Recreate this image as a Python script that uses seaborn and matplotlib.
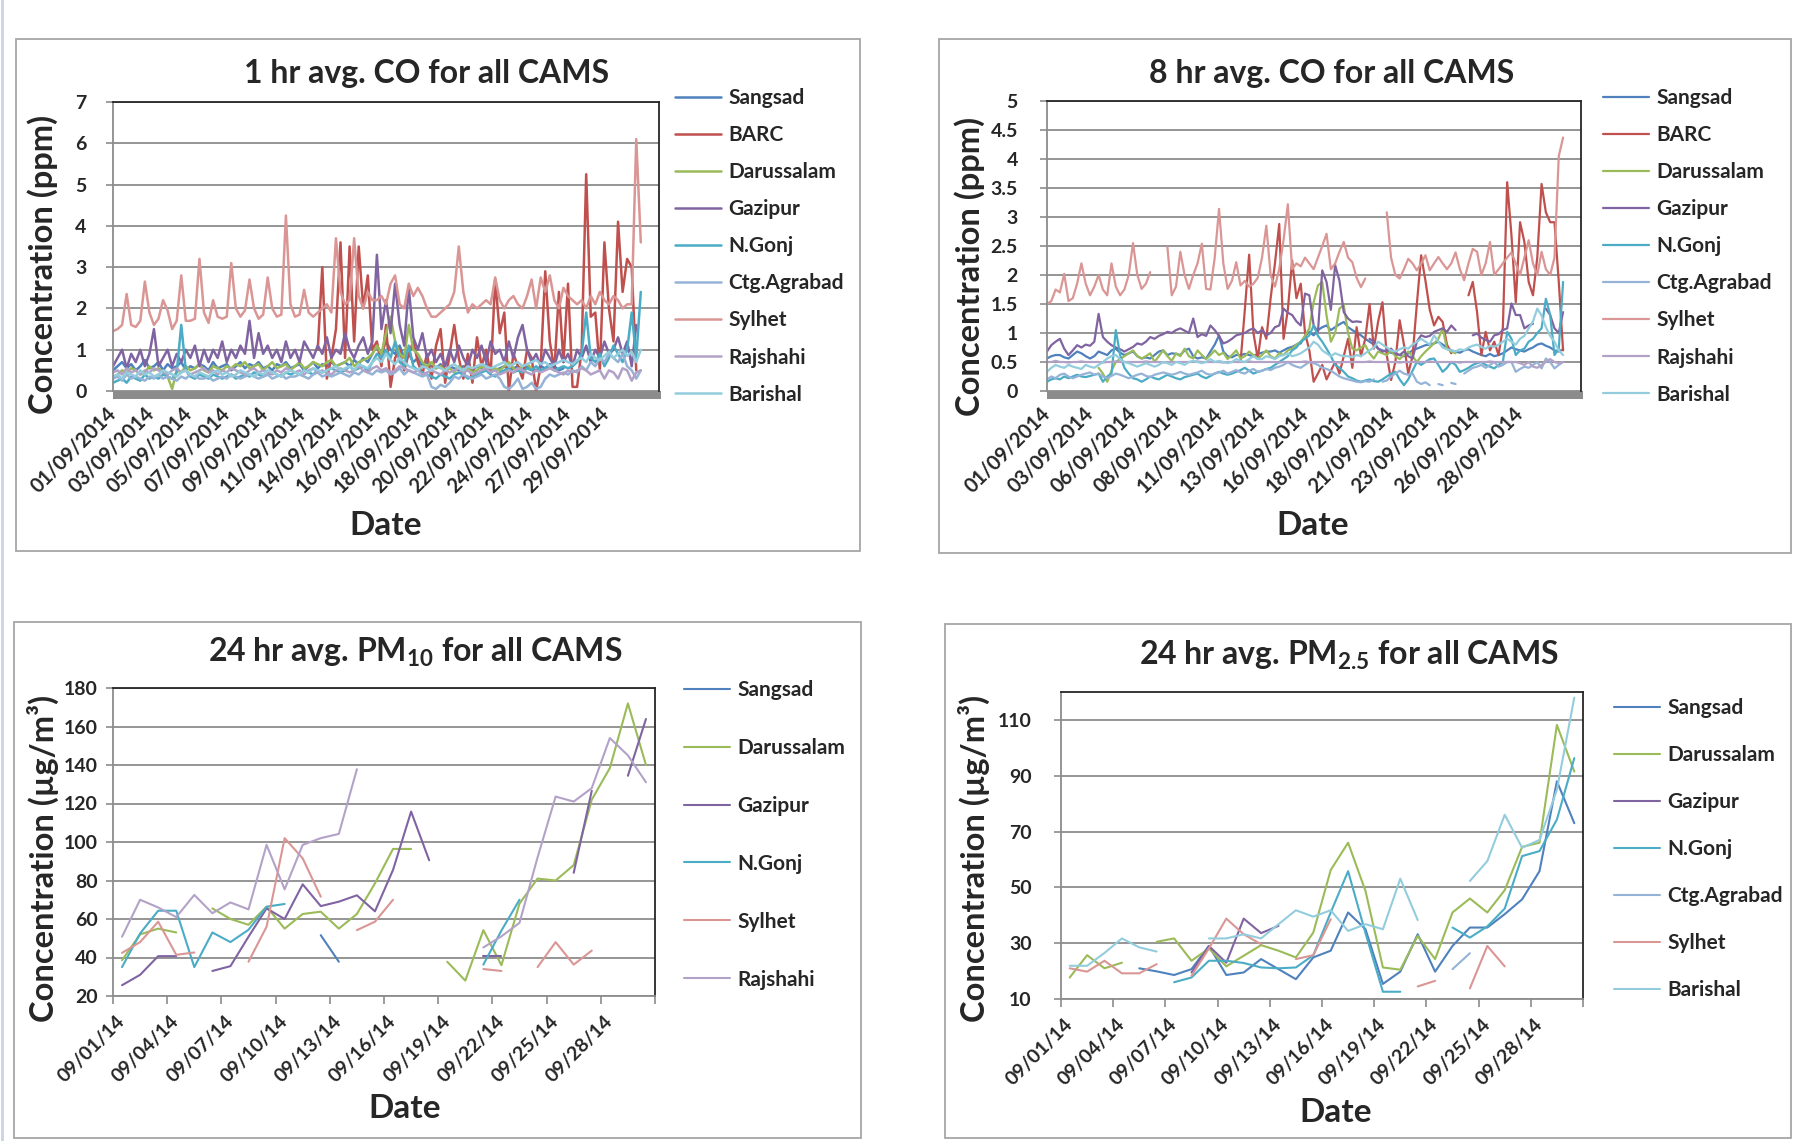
import numpy as np
import pandas as pd
import matplotlib
matplotlib.use("Agg")
import matplotlib.pyplot as plt
import seaborn as sns
from matplotlib.patches import Rectangle
from matplotlib.lines import Line2D

# ---------------- DATA ----------------
stations_co = ["Sangsad", "BARC", "Darussalam", "Gazipur", "N.Gonj", "Ctg.Agrabad", "Sylhet", "Rajshahi", "Barishal"]
colors = {"Sangsad": "#4F81BD", "BARC": "#C0504D", "Darussalam": "#9BBB59", "Gazipur": "#8064A2",
          "N.Gonj": "#4BACC6", "Ctg.Agrabad": "#95B3D7", "Sylhet": "#D99694", "Rajshahi": "#B3A2C7",
          "Barishal": "#93CDDD"}

# 1 hr avg CO (ppm), one value every 6 hours of the hourly record
co1_sangsad = [0.5,0.6,0.7,0.55,0.65,0.5,0.6,0.75,0.55,0.6, 0.7,0.5,0.65,0.55,0.6,0.7,0.5,0.6,0.55,0.65,
               0.6,0.5,0.7,0.55,0.6,0.65,0.5,0.6,0.7,0.55, 0.65,0.6,0.7,0.55,0.6,0.5,0.65,0.6,0.7,0.55,
               0.6,0.65,0.5,0.6,0.7,0.55,0.65,0.6,0.7,0.6, 0.65,0.7,0.6,0.75,0.65,0.8,0.7,0.9,1.1,0.9,
               1.2,1.0,0.9,1.1,0.8,0.9,0.7,0.8,0.6,0.7, 0.6,0.55,0.65,0.5,0.6,0.55,0.5,0.6,0.55,0.5,
               0.6,0.55,0.65,0.6,0.5,0.55,0.6,0.5,0.55,0.6, 0.5,0.6,0.55,0.5,0.6,0.55,0.65,0.6,0.5,0.55]
co1_barc = [None] * 45 + [1.0,3.0,0.3,0.8,1.5,
            3.6,0.8,3.5,1.2,3.5,2.0,2.8,1.0,1.2,0.6, 1.6,0.1,0.8,1.0,0.5,0.9,1.2,0.7,0.4,0.9,
            0.3,1.1,1.5,0.2,0.9,1.6,0.8,0.3,0.9,0.2, 1.3,0.6,1.0,0.4,2.7,1.4,1.9,0.0,0.9,0.6,
            0.3,1.0,0.8,0.0,0.6,2.9,1.2,0.5,2.4,0.7, 2.6,0.1,0.1,1.0,5.25,1.8,1.9,0.5,3.6,2.0,
            1.2,4.1,2.4,3.2,3.0,0.5]
co1_darussalam = [0.3,0.4,0.5,0.45,0.55,0.5,0.4,0.45,0.6,0.5, 0.55,0.45,0.35,0.05,0.5,0.45,0.6,0.5,0.55,0.65,
                  0.5,0.45,0.6,0.55,0.5,0.6,0.55,0.65,0.6,0.7, 0.55,0.6,0.65,0.5,0.6,0.7,0.55,0.6,0.65,0.5,
                  0.6,0.7,0.55,0.6,0.7,0.65,0.6,0.7,0.75,0.6, 0.65,0.7,0.8,0.6,0.7,0.75,0.8,0.9,1.1,0.9,
                  1.4,1.8,1.2,0.9,0.8,1.6,1.0,0.9,0.7,0.6, 0.7,0.55,0.6,0.5,0.55,0.45,0.6,0.5,0.55,0.45,
                  0.5,0.6,0.5,0.45,0.55,0.5,0.6,0.7,0.55,0.5, 0.6,0.65,0.55]
co1_gazipur = [0.6,0.8,1.0,0.55,0.9,0.7,1.0,0.6,0.9,1.5, 0.6,0.8,1.0,0.6,0.9,0.7,1.0,0.8,1.1,0.6,
               1.0,0.7,1.0,0.8,1.2,0.7,1.0,0.8,1.1,0.9, 1.7,0.8,1.4,0.9,1.1,0.8,1.0,0.7,1.2,0.8,
               1.0,0.7,1.2,1.0,0.8,1.1,0.9,1.3,0.8,1.0, 0.9,1.4,1.0,0.8,1.1,1.3,0.9,1.2,3.3,1.5,
               2.2,1.4,2.6,1.6,1.1,2.5,1.3,1.0,1.4,0.8, 1.0,0.7,0.9,0.6,1.0,0.7,1.1,0.8,0.6,1.0,
               0.8,1.1,0.7,1.2,0.9,1.0,0.7,1.2,0.8,1.3, 1.6,1.0,0.7,0.9,0.6,1.0,0.8,0.6,1.0,0.7,
               0.9,0.6,1.0,0.8,1.1,0.7,1.0,0.8,1.2,0.9, 1.0,1.3,0.9,1.2,0.6,1.6]
co1_ngonj = [0.2,0.25,0.3,0.2,0.35,0.3,0.25,0.4,0.3,0.35, 0.3,0.4,0.35,0.3,0.45,1.6,0.5,0.35,0.3,0.4,
             0.35,0.3,0.4,0.35,0.3,0.35,0.4,0.3,0.35,0.4, 0.35,0.45,0.4,0.35,0.4,0.45,0.4,0.35,0.45,0.4,
             0.45,0.4,0.5,0.45,0.4,0.5,0.45,0.5,0.55,0.5, 0.45,0.5,0.6,0.5,0.55,0.6,0.5,0.7,0.9,0.8,
             1.0,0.8,1.2,0.7,0.6,1.1,0.6,0.5,0.45,0.4, 0.35,0.3,0.4,0.35,0.3,0.4,0.45,0.4,0.3,0.35,
             0.4,0.45,0.5,0.4,0.35,0.45,0.5,0.55,0.45,0.5, 0.45,0.55,0.5,0.6,0.5,0.55,0.6,0.5,0.55,0.6,
             0.55,0.6,0.7,0.9,1.9,0.8,0.7,0.9,0.6,0.8, 1.1,0.9,0.7,1.0,1.9,0.8,2.4]
co1_ctg = [0.3,0.35,0.25,0.4,0.3,0.35,0.3,0.25,0.35,0.3, 0.4,0.3,0.35,0.3,0.25,0.35,0.3,0.4,0.35,0.3,
           0.3,0.35,0.25,0.3,0.35,0.3,0.4,0.35,0.3,0.35, 0.4,0.35,0.3,0.35,0.4,0.3,0.35,0.4,0.3,0.35,
           0.35,0.4,0.35,0.3,0.4,0.45,0.35,0.4,0.35,0.4, 0.45,0.4,0.35,0.45,0.4,0.5,0.45,0.4,0.5,0.45,
           0.5,0.4,0.45,0.55,0.4,0.5,0.45,0.4,0.35,0.4, 0.1,0.05,0.15,0.1,0.2,0.35,0.3,0.4,0.35,0.3,
           0.35,0.4,0.3,0.35,0.4,0.3,0.1,0.05,0.15,0.3, 0.05,0.1,0.2,0.05,0.1,0.3,0.4,0.35,0.4,0.45,
           0.4,0.5,0.45,0.6,0.5,0.7,0.6,0.8,0.7,0.9, 0.8,0.7,0.9,0.6,0.5,0.3,0.5]
co1_sylhet = [1.45,1.5,1.6,2.35,1.6,1.55,1.7,2.65,1.9,1.6, 1.75,2.2,1.95,1.5,1.7,2.8,1.7,1.7,1.75,3.2,
              1.9,1.65,2.2,1.8,1.75,1.8,3.1,2.0,1.8,1.95, 2.7,2.0,1.75,1.85,2.75,2.0,1.8,1.85,4.25,2.1,
              1.8,1.85,2.45,1.9,1.8,1.9,2.0,2.1,1.9,3.7, 2.4,2.1,2.2,3.7,2.3,2.0,2.4,2.2,2.2,2.3,
              2.1,2.6,2.8,2.1,2.0,2.6,2.3,2.5,2.3,2.0, 1.8,1.8,1.9,2.0,2.1,2.4,3.5,2.4,1.9,2.1,
              2.0,2.1,2.2,2.1,2.75,2.2,2.0,2.2,2.3,2.1, 2.0,2.3,2.7,2.0,2.75,2.4,2.8,2.2,2.0,2.5,
              2.3,2.2,2.1,2.2,2.0,2.3,2.1,2.4,2.2,2.1, 2.3,2.2,2.0,2.1,2.1,6.1,3.6]
co1_rajshahi = [0.45,0.5,0.4,0.55,0.45,0.5,0.4,0.5,0.45,0.55, 0.5,0.45,0.4,0.5,0.55,0.45,0.5,0.4,0.45,0.5,
                0.55,0.45,0.5,0.4,0.5,0.45,0.55,0.5,0.45,0.4, 0.5,0.55,0.45,0.5,0.45,0.4,0.5,0.45,0.55,0.5,
                0.45,0.5,0.4,0.5,0.55,0.45,0.5,0.45,0.4,0.5, 0.55,0.5,0.45,0.5,0.6,0.5,0.45,0.55,0.6,0.5,
                0.55,0.45,0.5,0.6,0.55,0.5,0.45,0.5,0.4,0.45, 0.5,0.45,0.4,0.5,0.45,0.5,0.55,0.45,0.5,0.4,
                0.45,0.5,0.55,0.45,0.5,0.4,0.45,0.5,0.45,0.55, 0.5,0.45,0.4,0.5,0.45,0.5,0.55,0.5,0.45,0.4,
                0.5,0.45,0.5,0.55,0.5,0.4,0.45,0.5,0.3,0.5, 0.45,0.3,0.55,0.5,0.25,0.45,0.5]
co1_barishal = [0.35,0.4,0.3,0.45,0.4,0.35,0.5,0.4,0.45,0.35, 0.4,0.5,0.45,0.4,0.35,0.45,0.5,0.4,0.35,0.45,
                0.4,0.35,0.45,0.5,0.4,0.45,0.35,0.4,0.5,0.45, 0.4,0.35,0.45,0.4,0.5,0.45,0.4,0.35,0.45,0.5,
                0.45,0.4,0.5,0.45,0.55,0.5,0.45,0.5,0.55,0.6, 0.5,0.55,0.6,0.5,0.65,0.6,0.55,0.7,0.8,0.7,
                0.9,0.75,0.65,0.8,0.7,0.6,0.55,0.5,0.6,0.55, 0.5,0.6,0.55,0.5,0.6,0.65,0.55,0.5,0.6,0.55,
                0.6,0.65,0.6,0.55,0.6,0.65,0.7,0.6,0.65,0.7, 0.6,0.65,0.7,0.75,0.65,0.7,0.6,0.65,0.7,0.75,
                0.7,0.65,0.75,0.8,0.7,0.9,0.8,0.75,0.85,0.95, 0.8,0.9,1.0,0.85,0.95,0.7,1.0]
co1_ticklabels = ["01/09/2014", "03/09/2014", "05/09/2014", "07/09/2014", "09/09/2014", "11/09/2014",
                  "14/09/2014", "16/09/2014", "18/09/2014", "20/09/2014", "22/09/2014", "24/09/2014",
                  "27/09/2014", "29/09/2014"]

# 8 hr avg CO (ppm), one value every 6 hours
co8_sangsad = [0.56,0.6,0.62,0.62,0.58,0.56,0.62,0.68,0.65,0.6, 0.56,0.6,0.68,0.65,0.62,0.7,0.73,0.66,0.62,0.65,
               0.68,0.6,0.56,0.58,0.56,0.62,0.68,0.7,0.62,0.65, 0.64,0.62,0.7,0.73,0.6,0.56,0.58,0.56,0.68,0.8,
               0.96,0.68,0.6,0.58,0.62,0.62,0.64,0.62,0.6,0.64, 0.66,0.68,0.68,0.7,0.66,0.7,0.74,0.76,0.8,0.82,
               0.95,1.02,0.96,1.05,1.1,1.13,1.05,1.1,1.15,1.19, 1.1,1.05,1.0,0.96,0.9,0.85,0.8,0.73,0.7,0.68,
               0.66,0.64,0.62,0.6,0.65,0.7,0.73,0.76,0.79,0.8, 0.82,0.85,0.8,0.75,0.7,0.68,0.66,0.7,0.72,0.68,
               0.65,0.62,0.6,0.64,0.6,0.62,0.65,0.7,0.75,0.72, 0.7,0.68,0.72,0.75,0.8,0.82,0.78,0.75,0.7,0.68,
               0.72]
co8_barc = [None] * 45 + [0.5,1.4,2.35,1.0,0.56,
            1.1,0.9,1.6,2.2,2.88,0.9,1.4,2.25,1.6,1.85, 1.0,0.7,0.16,0.3,0.45,0.2,0.35,0.5,0.3,0.6,
            0.9,0.4,1.1,0.6,0.9,1.5,0.73,1.2,1.53,0.62, 0.19,0.5,1.22,0.8,0.3,0.6,1.5,2.34,1.9,1.4,
            1.13,1.28,1.19,0.8,0.65,None,None,None,1.65,1.88, 1.36,0.62,1.02,0.7,0.85,0.62,1.1,3.6,2.68,1.53,
            2.91,2.57,1.88,1.65,2.3,3.57,3.08,2.91,2.91,1.88, 0.7]
co8_darussalam = [None] * 12 + [0.4,0.3,0.16,0.35,0.5,0.55,0.6,0.65,
                  0.7,0.6,0.56,0.6,0.65,0.5,0.6,0.7,0.6,0.52, 0.65,0.6,0.73,0.6,0.56,0.7,0.62,0.55,0.62,0.7,
                  0.62,0.66,0.55,0.62,0.7,0.56,0.6,0.68,0.62,0.56, 0.62,0.7,0.6,0.56,0.65,0.62,0.7,0.73,0.8,0.85,
                  0.95,1.08,1.53,1.82,1.88,1.3,0.85,1.0,1.42,1.48, 1.0,0.73,0.7,0.75,0.79,0.65,0.56,0.68,0.65,0.62,
                  0.7,0.6,0.55,0.62,0.68,0.6,0.5,0.6,0.68,0.75, 0.82,0.9,1.08,0.73,0.68,0.65]
co8_gazipur = [0.68,0.79,0.85,0.9,0.73,0.62,0.7,0.79,0.75,0.8, 0.78,0.85,1.33,0.93,0.85,0.79,0.75,0.72,0.68,0.72,
               0.76,0.82,0.8,0.85,0.93,0.9,0.95,0.98,1.02,1.0, 1.05,1.08,1.04,1.0,1.25,0.93,0.98,0.95,1.13,1.05,
               0.95,0.82,0.85,0.9,0.96,0.98,1.0,1.05,1.08,1.0, 1.05,0.96,1.0,1.1,1.13,1.42,1.35,1.31,1.2,1.13,
               1.68,1.65,1.13,1.02,2.08,1.88,1.4,2.17,1.9,1.36, 1.25,1.19,1.2,1.19,None,0.9,0.85,0.73,0.68,0.7,
               0.73,0.65,0.62,0.68,0.6,0.56,0.85,0.96,0.93,0.95, 1.02,1.05,1.08,1.02,1.13,1.05,None,None,None,0.96,
               0.99,0.92,0.88,0.85,0.96,0.98,1.05,1.08,1.51,1.31, 1.31,1.08,1.13,1.16,None,None,1.42,1.31,1.08,1.0,
               1.36]
co8_ngonj = [0.16,0.2,0.22,0.2,0.25,0.22,0.25,0.28,0.25,0.24, 0.26,0.28,0.3,0.16,0.25,0.3,1.05,0.62,0.4,0.3,
             0.22,0.2,0.16,0.2,0.25,0.22,0.2,0.24,0.28,0.25, 0.22,0.2,0.24,0.26,0.28,0.3,0.25,0.22,0.26,0.3,
             0.33,0.3,0.28,0.3,0.33,0.36,0.4,0.35,0.3,0.33, 0.35,0.38,0.4,0.45,0.5,0.55,0.6,0.7,0.75,0.85,
             0.9,0.96,1.13,0.95,0.85,0.73,0.6,0.45,0.4,0.33, 0.25,0.22,0.18,0.16,0.18,0.2,0.17,0.16,0.2,0.25,
             0.3,0.33,0.2,0.1,0.2,0.35,0.5,0.45,0.5,0.55, 0.56,0.45,0.33,0.4,0.5,0.45,0.33,0.36,0.4,0.45,
             0.48,0.5,0.45,0.42,0.39,0.45,0.5,1.02,0.9,0.62, 0.7,0.73,0.85,0.9,1.0,1.08,1.59,1.31,0.62,0.73,
             1.88]
co8_ctg = [0.2,0.25,0.22,0.28,0.3,0.25,0.22,0.25,0.28,0.3, 0.32,0.28,0.3,0.25,0.22,0.26,0.3,0.28,0.25,0.22,
           0.25,0.28,0.3,0.26,0.24,0.28,0.3,0.32,0.3,0.28, 0.3,0.33,0.3,0.28,0.3,0.32,0.35,0.3,0.28,0.3,
           0.32,0.35,0.3,0.33,0.36,0.32,0.3,0.35,0.38,0.33, 0.35,0.38,0.36,0.4,0.42,0.45,0.5,0.45,0.42,0.4,
           0.45,0.5,0.48,0.45,0.4,0.38,0.35,0.3,0.25,0.22, 0.2,0.18,0.16,0.15,0.17,0.16,0.2,None,0.16,0.18,
           0.25,0.3,0.35,0.3,0.28,0.3,0.16,0.12,0.15,0.1, None,0.12,0.1,None,0.14,0.12,None,0.3,0.35,0.4,
           0.42,0.45,0.4,0.45,0.5,0.42,0.45,0.5,0.5,0.33, 0.38,0.42,0.4,0.45,0.5,0.39,0.56,0.5,0.39,0.45,
           0.5]
co8_sylhet = [1.5,1.55,1.75,1.7,2.02,1.55,1.6,1.85,2.2,1.85, 1.65,1.8,2.0,1.75,1.65,2.2,1.8,1.65,1.75,2.0,
              2.55,2.0,1.76,1.85,2.05,None,None,None,2.48,1.65, 1.8,2.4,2.0,1.76,2.0,2.2,2.54,1.76,1.75,2.3,
              3.14,2.2,1.76,1.9,2.22,1.82,1.9,1.8,1.85,1.95, 2.3,2.85,2.0,1.8,2.1,2.6,3.22,2.1,2.2,2.15,
              2.3,2.2,2.1,2.3,2.5,2.71,2.1,2.2,2.4,2.57, 2.3,2.22,1.95,1.79,1.94,None,None,None,None,3.08,
              2.3,2.0,1.94,2.1,2.28,2.2,2.08,2.2,2.34,2.08, 2.2,2.31,2.2,2.1,2.2,2.39,2.1,1.91,2.2,2.45,
              2.4,2.0,2.2,2.57,2.0,2.1,2.2,2.3,2.39,2.2, 2.0,2.3,2.6,2.2,2.0,2.4,2.1,2.0,2.3,4.05,
              4.37]
co8_rajshahi = [0.5,0.5,0.52,0.5,0.5,0.49,0.5,0.5,0.51,0.5, 0.5,0.5,0.5,0.49,0.5,0.5,0.51,0.5,0.5,0.5,
                0.5,0.5,0.5,0.51,0.5,0.5,0.5,0.49,0.5,0.5, 0.5,0.5,0.5,0.5,0.5,0.51,0.5,0.5,0.5,0.5,
                0.5,0.49,0.5,0.5,0.5,0.5,0.5,0.51,0.5,0.5, 0.5,0.5,0.5,0.5,0.49,0.5,0.5,0.5,0.5,0.5,
                0.51,0.5,0.5,0.5,0.5,0.5,0.5,0.5,0.49,0.5, 0.5,0.5,0.5,0.5,0.5,0.51,0.5,0.5,0.5,0.5,
                0.5,0.5,0.49,0.5,0.5,0.5,0.5,0.5,0.5,0.51, 0.5,0.5,0.5,0.5,0.5,0.5,0.49,0.5,0.5,0.5,
                0.5,0.5,0.5,0.51,0.5,0.5,0.5,0.5,0.5,0.5, 0.48,0.45,0.5,0.42,0.4,0.45,0.5,0.55,0.5,0.48,
                0.5]
co8_barishal = [0.33,0.4,0.45,0.42,0.4,0.45,0.42,0.4,0.38,0.45, 0.42,0.4,0.45,0.5,0.56,0.6,0.62,0.55,0.5,0.48,
                0.45,0.42,0.45,0.48,0.45,0.42,0.45,0.5,0.48,0.45, 0.5,0.48,0.45,0.5,0.52,0.5,0.48,0.5,0.55,0.5,
                0.52,0.5,0.48,0.5,0.55,0.52,0.5,0.55,0.6,0.55, 0.55,0.6,0.58,0.55,0.6,0.62,0.65,0.6,0.62,0.65,
                0.7,0.75,0.85,0.8,0.7,0.65,0.6,0.65,0.62,0.6, 0.6,0.58,0.62,0.6,0.65,0.7,0.75,0.85,0.8,0.75,
                0.7,0.68,0.72,0.75,0.73,0.8,0.85,0.9,0.85,0.8, 0.96,0.85,0.75,0.72,0.7,0.68,0.72,0.7,0.75,0.78,
                0.8,0.76,0.73,0.78,0.76,0.8,0.85,0.9,0.85,0.8, 0.9,0.95,1.08,1.2,1.42,1.3,1.1,0.95,0.85,0.7,
                0.62]
co8_ticklabels = ["01/09/2014", "03/09/2014", "06/09/2014", "08/09/2014", "11/09/2014", "13/09/2014",
                  "16/09/2014", "18/09/2014", "21/09/2014", "23/09/2014", "26/09/2014", "28/09/2014"]

# 24 hr avg PM10 (ug/m3), daily, 1..30 Sep 2014
pm10_stations = ["Sangsad", "Darussalam", "Gazipur", "N.Gonj", "Sylhet", "Rajshahi"]
pm10_sangsad = [None,None,None,None,None,None,None,None,None,None, None,51.6,37.8,None,None,None,None,None,None,None,
                None,None,None,None,None,None,None,None,None,None]
pm10_darussalam = [38.6,52,55,53,None,65.5,60,57,66.4,55, 62.6,63.8,55,62.6,78.5,96.4,96.4,None,37.8,28,
                   54.2,36,68,81,80,88,122,138.4,172,140]
pm10_gazipur = [25.6,31,40.7,40.7,None,33,35.5,50.8,65.5,60, 78,66.7,69,72.3,64,85.5,115.8,90.5,None,None,
                40.7,40.7,None,None,None,84,126.6,None,134.4,163.9]
pm10_ngonj = [35,52.5,64.3,64.3,35,53,48,54.4,66.4,67.8, None,None,None,None,None,None,None,None,None,None,
              36.3,54,70,None,None,None,None,None,None,None]
pm10_sylhet = [42.4,48,58.6,41.4,42.6,None,None,37.8,56,102, 91.5,71.6,None,54.2,58.6,70,None,None,None,None,
               34,33,None,35,48,36.3,43.6,None,None,None]
pm10_rajshahi = [50.8,70,66,61,72.5,63,68.6,65,98.5,75.4, 98.5,102,104.2,137.8,None,None,None,None,None,None,
                 45.2,51,58,92,123.6,121,128,154,145,131]

# 24 hr avg PM2.5 (ug/m3), daily
pm25_stations = ["Sangsad", "Darussalam", "Gazipur", "N.Gonj", "Ctg.Agrabad", "Sylhet", "Barishal"]
pm25_sangsad = [None,None,None,None,21,19.9,18.6,20.7,29,18.6, 19.5,24.3,20.7,17.1,24.9,27.3,41,35,15.4,19.8,
                33.2,19.8,29,35.6,35.6,40.4,45.7,55.8,88,73]
pm25_darussalam = [17.7,25.7,21,23,None,30.5,31.7,23.7,28.1,21.7, 25.5,29.3,27.3,24.9,33.8,56.2,66,48.7,21.3,20.5,
                   32.6,24.3,41,46,41,49,64.5,66,108.2,91.5]
pm25_gazipur = [None,None,None,None,None,None,None,19.5,29,23, 38.8,33.6,36.2,None,None,None,None,None,None,None,
                None,None,None,None,None,None,None,None,None,None]
pm25_ngonj = [None,None,None,None,None,None,16,17.7,23.7,23.7, 22.9,21.3,21,21.3,25.7,41,55.8,33.6,12.6,12.6,
              None,None,35.6,32,36,42.4,61.2,63,74.3,96.3]
pm25_ctg = [None,None,None,None,None,None,None,None,None,None, None,None,None,None,None,None,None,None,None,None,
            None,None,20.7,26.4,None,None,None,None,None,None]
pm25_sylhet = [21,19.8,23.7,19.2,19.2,22.5,None,18.3,28.1,38.8, 33.2,29.6,None,24.3,25.7,38.6,None,None,None,None,
               14.5,16.5,None,13.8,29,21.7,None,None,None,None]
pm25_barishal = [21.9,21.9,26.5,31.7,28.5,27,None,None,31.7,31.7, 33.2,31.7,36.8,41.8,39.5,41.8,34.4,36.8,35,53.1,
                 38.3,None,None,52.3,59.4,76,64.2,67,85,118]
pm_ticklabels = ["09/01/14", "09/04/14", "09/07/14", "09/10/14", "09/13/14", "09/16/14", "09/19/14",
                 "09/22/14", "09/25/14", "09/28/14"]

# ---------------- STYLE ----------------
sns.set_theme(style="white")
plt.rcParams["font.family"] = ["Lato", "DejaVu Sans"]
plt.rcParams["font.weight"] = "bold"
plt.rcParams["mathtext.fontset"] = "custom"
plt.rcParams["mathtext.rm"] = "Lato:bold"
plt.rcParams["mathtext.it"] = "Lato:bold"
plt.rcParams["mathtext.bf"] = "Lato:bold"
plt.rcParams["mathtext.default"] = "rm"

W, H = 1793, 1141
fig = plt.figure(figsize=(W / 100, H / 100), dpi=100)
fig.patch.set_facecolor("white")
GRID = "#8C8C8C"
TITLE_FS = 23
LABEL_FS = 23.5
DATE_FS = 24
LEG_FS = 15


def px_ax(l, t, r, b):
    return fig.add_axes([l / W, 1 - b / H, (r - l) / W, (b - t) / H])


def frame(l, t, r, b):
    fig.add_artist(Rectangle((l / W, 1 - b / H), (r - l) / W, (b - t) / H, transform=fig.transFigure,
                             fill=False, edgecolor="#A6A6A6", lw=1.3))


def draw(ax, names, series, step, off, lw):
    rows = []
    for name, vals in zip(names, series):
        v = np.array(vals, dtype=float)
        x = np.arange(len(v)) * step + off
        seg = np.cumsum(np.isnan(v))
        ok = ~np.isnan(v)
        rows.append(pd.DataFrame({"x": x[ok], "y": v[ok], "station": name, "seg": seg[ok]}))
    df = pd.concat(rows, ignore_index=True)
    sns.lineplot(data=df, x="x", y="y", hue="station", hue_order=names, units="seg", estimator=None,
                 palette=colors, lw=lw, legend=False, sort=False, ax=ax)


def style_axes(ax, floor):
    ax.set_facecolor("white")
    ax.grid(axis="y", color=GRID, lw=1.3)
    ax.grid(axis="x", visible=False)
    ax.set_axisbelow(True)
    for s in ("top", "right"):
        ax.spines[s].set_color("#262626")
        ax.spines[s].set_linewidth(1.3)
    ax.spines["left"].set_color(GRID)
    ax.spines["left"].set_linewidth(1.3)
    ax.spines["bottom"].set_color(GRID)
    ax.spines["bottom"].set_linewidth(1.3)
    if floor:
        ax.spines["bottom"].set_visible(False)
        ax.add_patch(Rectangle((0, -0.026), 1.004, 0.026, transform=ax.transAxes, clip_on=False,
                               facecolor="#8C8C8C", edgecolor="none"))
    ax.set_xlabel("")
    ax.set_ylabel("")


def legend(ax, names, x, y, spacing, lw):
    handles = [Line2D([], [], color=colors[n], lw=lw) for n in names]
    ax.legend(handles, names, loc="upper left", bbox_to_anchor=(x / W, 1 - y / H), bbox_transform=fig.transFigure,
              frameon=False, fontsize=LEG_FS, handlelength=2.2, handletextpad=0.35, labelspacing=spacing,
              borderpad=0, borderaxespad=0)


# page edge line
fig.add_artist(Line2D([1.5 / W, 1.5 / W], [0, 1], color="#C9D5E5", lw=2, transform=fig.transFigure))

# ---------- panel 1: 1 hr CO ----------
frame(16, 39, 860, 551)
ax1 = px_ax(113, 102, 659, 391)
series1 = [co1_sangsad, co1_barc, co1_darussalam, co1_gazipur, co1_ngonj, co1_ctg, co1_sylhet, co1_rajshahi, co1_barishal]
draw(ax1, stations_co, series1, 6, 0, 1.8)
style_axes(ax1, True)
ax1.set_xlim(0, 720)
ax1.set_ylim(0, 7)
ax1.set_yticks(range(0, 8))
ax1.set_yticklabels([str(v) for v in range(0, 8)])
ax1.set_xticks(np.arange(len(co1_ticklabels)) * 50)
ax1.set_xticklabels(co1_ticklabels, rotation=45, ha="right", va="center", rotation_mode="anchor")
ax1.tick_params(axis="x", length=0, pad=14, labelsize=14.5)
ax1.tick_params(axis="y", left=True, length=5, width=1.2, color=GRID, pad=14, labelsize=14)
legend(ax1, stations_co, 675, 88, 0.82, 1.8)
fig.text(427 / W, 1 - 73 / H, "1 hr avg. CO for all CAMS", ha="center", va="center", fontsize=TITLE_FS, fontweight="bold")
fig.text(43 / W, 1 - 264 / H, "Concentration (ppm)", ha="center", va="center", rotation=90, fontsize=LABEL_FS, fontweight="bold")
fig.text(386 / W, 1 - 526 / H, "Date", ha="center", va="center", fontsize=DATE_FS, fontweight="bold")

# ---------- panel 2: 8 hr CO ----------
frame(939, 39, 1791, 553)
ax2 = px_ax(1047, 101, 1581, 391)
series2 = [co8_sangsad, co8_barc, co8_darussalam, co8_gazipur, co8_ngonj, co8_ctg, co8_sylhet, co8_rajshahi, co8_barishal]
draw(ax2, stations_co, series2, 6, 0, 1.6)
style_axes(ax2, True)
ax2.set_xlim(0, 745)
ax2.set_ylim(0, 5)
yt2 = np.arange(0, 5.01, 0.5)
ax2.set_yticks(yt2)
ax2.set_yticklabels([f"{v:g}" for v in yt2])
ax2.set_xticks(np.arange(len(co8_ticklabels)) * 60)
ax2.set_xticklabels(co8_ticklabels, rotation=45, ha="right", va="center", rotation_mode="anchor")
ax2.tick_params(axis="x", length=0, pad=14, labelsize=14.5)
ax2.tick_params(axis="y", left=True, length=5, width=1.2, color=GRID, pad=16, labelsize=14)
legend(ax2, stations_co, 1603, 88, 0.82, 1.6)
fig.text(1332 / W, 1 - 73 / H, "8 hr avg. CO for all CAMS", ha="center", va="center", fontsize=TITLE_FS, fontweight="bold")
fig.text(970 / W, 1 - 266 / H, "Concentration (ppm)", ha="center", va="center", rotation=90, fontsize=LABEL_FS, fontweight="bold")
fig.text(1313 / W, 1 - 526 / H, "Date", ha="center", va="center", fontsize=DATE_FS, fontweight="bold")


def pm_axes(ax, yl, yticks):
    style_axes(ax, False)
    ax.set_xlim(0, 30)
    ax.set_ylim(*yl)
    ax.set_yticks(yticks)
    ax.set_yticklabels([str(v) for v in yticks])
    ax.set_xticks(np.arange(0, 31, 3))
    ax.set_xticklabels([])
    ax.set_xticks(np.arange(0, 30, 3) + 0.5, minor=True)
    ax.set_xticklabels(pm_ticklabels, minor=True, rotation=45, ha="right", va="center", rotation_mode="anchor")
    ax.tick_params(axis="x", which="major", bottom=True, length=6, width=1.2, color=GRID)
    ax.tick_params(axis="x", which="minor", bottom=True, length=0, pad=16, labelsize=14)


# ---------- panel 3: PM10 ----------
frame(14, 622, 861, 1138)
ax3 = px_ax(113, 688, 655, 996)
series3 = [pm10_sangsad, pm10_darussalam, pm10_gazipur, pm10_ngonj, pm10_sylhet, pm10_rajshahi]
draw(ax3, pm10_stations, series3, 1, 0.5, 1.5)
pm_axes(ax3, (20, 180), list(range(20, 181, 20)))
ax3.tick_params(axis="y", left=True, length=5, width=1.2, color=GRID, pad=6, labelsize=14)
legend(ax3, pm10_stations, 684, 680, 1.82, 1.5)
fig.text(415 / W, 1 - 652 / H, r"24 hr avg. PM$_{10}$ for all CAMS", ha="center", va="center", fontsize=TITLE_FS, fontweight="bold")
fig.text(43 / W, 1 - 858 / H, "Concentration (µg/m³)", ha="center", va="center", rotation=90, fontsize=LABEL_FS, fontweight="bold")
fig.text(405 / W, 1 - 1109 / H, "Date", ha="center", va="center", fontsize=DATE_FS, fontweight="bold")

# ---------- panel 4: PM2.5 ----------
frame(945, 624, 1791, 1138)
ax4 = px_ax(1061, 692, 1583, 999)
series4 = [pm25_sangsad, pm25_darussalam, pm25_gazipur, pm25_ngonj, pm25_ctg, pm25_sylhet, pm25_barishal]
draw(ax4, pm25_stations, series4, 1, 0.5, 1.5)
pm_axes(ax4, (10, 120), list(range(10, 111, 20)))
ax4.tick_params(axis="y", left=True, length=5, width=1.2, color=GRID, pad=16, labelsize=14)
legend(ax4, pm25_stations, 1614, 698, 1.30, 1.5)
fig.text(1349 / W, 1 - 655 / H, r"24 hr avg. PM$_{2.5}$ for all CAMS", ha="center", va="center", fontsize=TITLE_FS, fontweight="bold")
fig.text(974 / W, 1 - 858 / H, "Concentration (µg/m³)", ha="center", va="center", rotation=90, fontsize=LABEL_FS, fontweight="bold")
fig.text(1336 / W, 1 - 1113 / H, "Date", ha="center", va="center", fontsize=DATE_FS, fontweight="bold")

fig.savefig("out.png", dpi=100, facecolor="white")
